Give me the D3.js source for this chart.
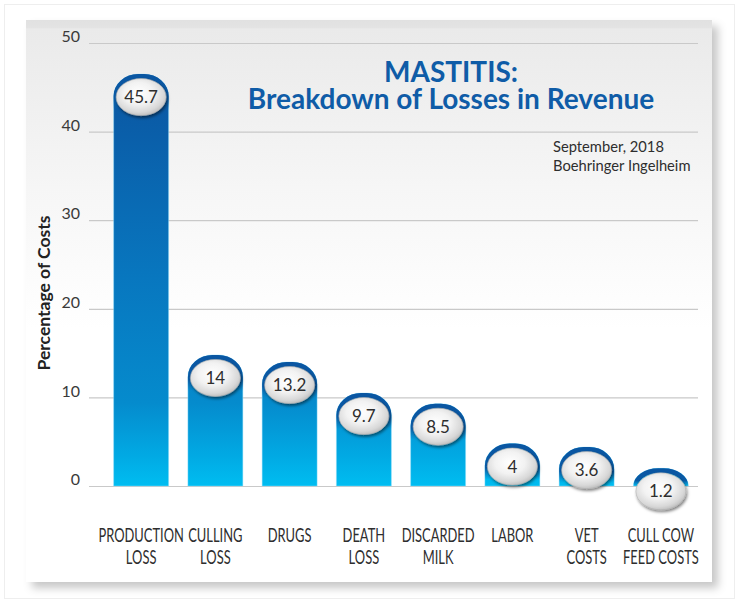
<!DOCTYPE html>
<html>
<head>
<meta charset="utf-8">
<script src="https://cdn.jsdelivr.net/npm/d3@7"></script>
<style>
  body { margin: 0; background: #fff; }
  svg { display: block; font-family: Lato, "Open Sans", sans-serif; }
</style>
</head>
<body>
<svg id="chart" width="736" height="601"></svg>
<script>
const categories = ['PRODUCTION LOSS', 'CULLING LOSS', 'DRUGS', 'DEATH LOSS', 'DISCARDED MILK', 'LABOR', 'VET COSTS', 'CULL COW FEED COSTS'];
const categoryLines = [['PRODUCTION', 'LOSS'], ['CULLING', 'LOSS'], ['DRUGS'], ['DEATH', 'LOSS'], ['DISCARDED', 'MILK'], ['LABOR'], ['VET', 'COSTS'], ['CULL COW', 'FEED COSTS']];
const values = [45.7, 14, 13.2, 9.7, 8.5, 4, 3.6, 1.2];
const yTicks = [0, 10, 20, 30, 40, 50];
const titleLines = ['MASTITIS:', 'Breakdown of Losses in Revenue'];
const noteLines = ['September, 2018', 'Boehringer Ingelheim'];
const yAxisTitle = 'Percentage of Costs';

const svg = d3.select('#chart');
const defs = svg.append('defs');

// card background + shadow
const cardGrad = defs.append('linearGradient').attr('id', 'cardGrad')
  .attr('x1', 0).attr('y1', 0).attr('x2', 0).attr('y2', 1);
[[0, '#e1e1e1'], [0.013, '#e3e3e3'], [0.016, '#eaeaea'], [0.3, '#f6f6f6'], [0.55, '#ffffff'], [1, '#ffffff']]
  .forEach(([o, c]) => cardGrad.append('stop').attr('offset', o).attr('stop-color', c));

const cardShadow = defs.append('filter').attr('id', 'cardShadow')
  .attr('x', '-5%').attr('y', '-5%').attr('width', '115%').attr('height', '115%');
cardShadow.append('feDropShadow').attr('dx', 6).attr('dy', 6).attr('stdDeviation', 4)
  .attr('flood-color', '#000').attr('flood-opacity', 0.22);

const badgeShadow = defs.append('filter').attr('id', 'badgeShadow')
  .attr('x', '-30%').attr('y', '-30%').attr('width', '160%').attr('height', '160%');
badgeShadow.append('feDropShadow').attr('dx', 1.2).attr('dy', 2).attr('stdDeviation', 1.4)
  .attr('flood-color', '#000').attr('flood-opacity', 0.5);

const badgeGrad = defs.append('radialGradient').attr('id', 'badgeGrad')
  .attr('cx', '45%').attr('cy', '40%').attr('r', '60%');
[[0, '#ffffff'], [0.5, '#f2f2f2'], [0.85, '#d8d8d8'], [1, '#c2c2c2']]
  .forEach(([o, c]) => badgeGrad.append('stop').attr('offset', o).attr('stop-color', c));

const capGrad = defs.append('linearGradient').attr('id', 'capGrad')
  .attr('x1', 0).attr('y1', 0).attr('x2', 0).attr('y2', 1);
[[0, '#0a56a2', 1], [0.65, '#0a5aa5', 1], [1, '#0a6ab0', 0]]
  .forEach(([o, c, a]) => capGrad.append('stop').attr('offset', o).attr('stop-color', c).attr('stop-opacity', a));

svg.append('rect').attr('x', 4.5).attr('y', 4.5).attr('width', 730).attr('height', 594)
  .attr('fill', 'none').attr('stroke', '#eeeeee');

svg.append('rect').attr('x', 26).attr('y', 20).attr('width', 686).attr('height', 562)
  .attr('fill', 'url(#cardGrad)').attr('filter', 'url(#cardShadow)');

// scales
const x = d3.scaleBand().domain(categories).range([104, 698]).paddingInner(0.26).paddingOuter(0.13);
const y = d3.scaleLinear().domain([0, 50]).range([486, 43]);

const barGrad = defs.append('linearGradient').attr('id', 'barGrad')
  .attr('gradientUnits', 'userSpaceOnUse')
  .attr('x1', 0).attr('y1', y(47)).attr('x2', 0).attr('y2', y(0));
[[0, '#0b54a0'], [0.5, '#0877bf'], [0.8, '#058bcd'], [0.93, '#01aae4'], [1, '#00bdf1']]
  .forEach(([o, c]) => barGrad.append('stop').attr('offset', o).attr('stop-color', c));

// grid + y ticks
const yAxis = svg.append('g')
  .attr('transform', 'translate(89,0)')
  .call(d3.axisLeft(y).tickValues(yTicks).tickSize(-609).tickPadding(9));
yAxis.select('.domain').remove();
yAxis.selectAll('.tick line').attr('stroke', '#c9c9c9').attr('stroke-width', 1.2);
yAxis.selectAll('.tick text')
  .attr('dy', '-0.08em')
  .attr('fill', '#3a3a3a')
  .attr('font-size', 16)
  .attr('font-family', 'Lato, sans-serif');

svg.append('text')
  .attr('transform', 'translate(50,293) rotate(-90)')
  .attr('text-anchor', 'middle')
  .attr('font-size', 17.5)
  .attr('font-weight', 700)
  .attr('fill', '#222')
  .text(yAxisTitle);

// bars
const bw = x.bandwidth();
const base = y(0);
const capLift = 7;
function barPath(x0, w, t, b) {
  const rx = w * 0.45, ry = Math.min(22, b - t);
  return `M${x0},${b}V${t + ry}A${rx},${ry} 0 0 1 ${x0 + rx},${t}H${x0 + w - rx}A${rx},${ry} 0 0 1 ${x0 + w},${t + ry}V${b}Z`;
}
function capPath(x0, w, t, b) {
  const i = 2.5;
  const rx = w * 0.45 - i, ry = Math.min(22, b - t) - i;
  const low = Math.min(b, t + i + ry + 14);
  return `M${x0 + i},${low}V${t + i + ry}A${rx},${ry} 0 0 1 ${x0 + i + rx},${t + i}H${x0 + w - i - rx}A${rx},${ry} 0 0 1 ${x0 + w - i},${t + i + ry}V${low}`;
}

const bars = svg.append('g').selectAll('g')
  .data(values)
  .enter().append('g');

bars.append('path')
  .attr('d', (d, i) => barPath(x(categories[i]), bw, y(d) - capLift, base))
  .attr('fill', 'url(#barGrad)')
  .attr('stroke', 'rgba(140,220,250,0.55)')
  .attr('stroke-width', 0.8);

bars.append('path')
  .attr('d', (d, i) => capPath(x(categories[i]), bw, y(d) - capLift, base))
  .attr('fill', 'none')
  .attr('stroke', 'url(#capGrad)')
  .attr('stroke-width', 5);

bars.append('ellipse')
  .attr('cx', (d, i) => x(categories[i]) + bw / 2)
  .attr('cy', d => y(d) + 16)
  .attr('rx', 25)
  .attr('ry', 18.5)
  .attr('fill', 'url(#badgeGrad)')
  .attr('stroke', '#b0b0b0')
  .attr('stroke-width', 0.6)
  .attr('filter', 'url(#badgeShadow)');

bars.append('text')
  .attr('x', (d, i) => x(categories[i]) + bw / 2)
  .attr('y', d => y(d) + 22)
  .attr('text-anchor', 'middle')
  .attr('font-size', 17)
  .attr('fill', '#2e2e2e')
  .text(d => d);

// category labels
const cats = svg.append('g').selectAll('text')
  .data(categoryLines)
  .enter().append('text')
  .attr('transform', (d, i) => `translate(${x(categories[i]) + bw / 2},0) scale(0.68,1)`)
  .attr('text-anchor', 'middle')
  .attr('font-size', 19)
  .attr('fill', '#2e2e2e');
cats.selectAll('tspan')
  .data(d => d)
  .enter().append('tspan')
  .attr('x', 0)
  .attr('y', (d, j) => 542 + j * 22)
  .text(d => d);

// title + note
svg.append('text')
  .attr('transform', 'translate(451,0)')
  .attr('text-anchor', 'middle')
  .attr('font-size', 28)
  .attr('font-weight', 700)
  .attr('fill', '#0f5ca7')
  .selectAll('tspan').data(titleLines).enter().append('tspan')
  .attr('x', 0)
  .attr('y', (d, i) => 82 + i * 27)
  .text(d => d);

svg.append('text')
  .attr('transform', 'translate(553,0) scale(0.92,1)')
  .attr('font-size', 16)
  .attr('fill', '#2e2e2e')
  .selectAll('tspan').data(noteLines).enter().append('tspan')
  .attr('x', 0)
  .attr('y', (d, i) => 152 + i * 19)
  .text(d => d);
</script>
</body>
</html>
